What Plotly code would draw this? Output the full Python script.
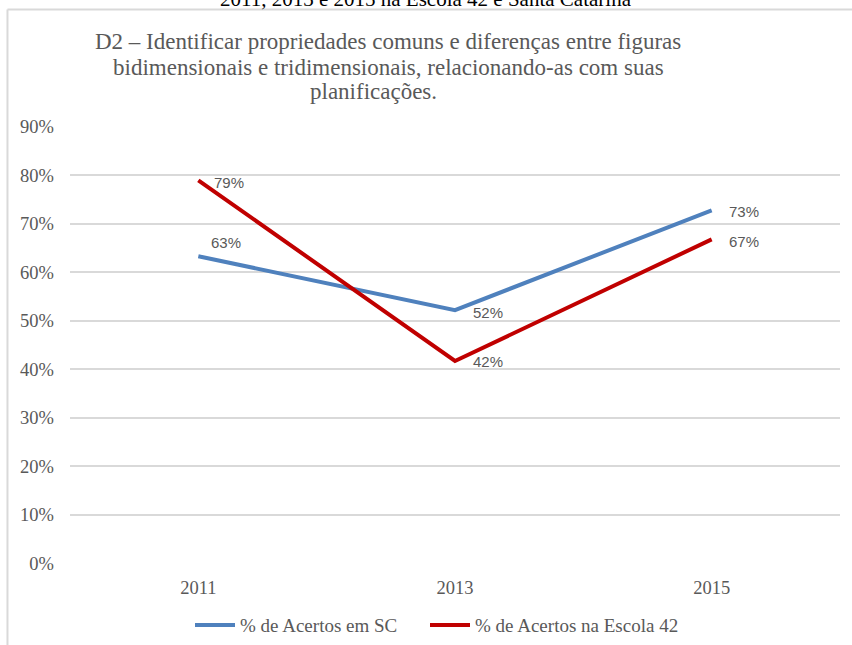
import plotly.graph_objects as go

anos = ["2011", "2013", "2015"]
acertos_sc = [0.633, 0.522, 0.728]
acertos_escola = [0.79, 0.417, 0.668]
rotulos_sc = ["63%", "52%", "73%"]
rotulos_escola = ["79%", "42%", "67%"]
y_ticks = [0, 0.1, 0.2, 0.3, 0.4, 0.5, 0.6, 0.7, 0.8, 0.9]

cinza = "#595959"
serif = "Liberation Serif, Times New Roman, serif"
sans = "Liberation Sans, Arial, sans-serif"

fig = go.Figure()
fig.add_trace(go.Scatter(
    x=anos, y=acertos_sc, mode="lines", name="% de Acertos em SC",
    line=dict(color="#4F81BD", width=4), legend="legend",
))
fig.add_trace(go.Scatter(
    x=anos, y=acertos_escola, mode="lines", name="% de Acertos na Escola 42",
    line=dict(color="#C00000", width=4), legend="legend2",
))

# rótulos de dados, à direita dos pontos (o primeiro azul fica um pouco acima)
desloc_sc = [(11, 14), (16, -2), (15, -1)]
desloc_escola = [(14, -2), (16, -1), (15, -2)]
for valores, rotulos, desloc in [(acertos_sc, rotulos_sc, desloc_sc),
                                 (acertos_escola, rotulos_escola, desloc_escola)]:
    for i, (v, r, (dx, dy)) in enumerate(zip(valores, rotulos, desloc)):
        fig.add_annotation(x=i, y=v, text=r, showarrow=False, xanchor="left",
                           xshift=dx, yshift=dy,
                           font=dict(family=sans, size=15, color=cinza))

# moldura da área do gráfico (só esquerda e topo aparecem no recorte)
fig.add_shape(type="line", xref="paper", yref="paper", x0=-0.0812, x1=1.03, y0=1.266, y1=1.266,
              line=dict(color="#D9D9D9", width=2))
fig.add_shape(type="line", xref="paper", yref="paper", x0=-0.0812, x1=-0.0812, y0=-0.3, y1=1.266,
              line=dict(color="#D9D9D9", width=2))

titulo = ["D2 – Identificar propriedades comuns e diferenças entre figuras",
          "bidimensionais e tridimensionais, relacionando-as com suas",
          "planificações."]
for linha, (cx, cy) in zip(titulo, [(388, 42), (388, 67), (373, 91)]):
    fig.add_annotation(text=linha, xref="paper", yref="paper",
                       x=(cx - 70) / 770, y=(564 - cy) / 438,
                       xanchor="center", yanchor="middle", showarrow=False,
                       font=dict(family=serif, size=23, color=cinza))

fig.add_annotation(
    text="2011, 2013 e 2015 na Escola 42 e Santa Catarina",
    xref="paper", yref="paper", x=(426 - 70) / 770, y=(564 - 13) / 438,
    xanchor="center", yanchor="bottom",
    showarrow=False, font=dict(family=serif, size=21, color="black"),
)

leg = dict(orientation="h", y=-0.096, yanchor="top", xanchor="left", bgcolor="rgba(0,0,0,0)",
           font=dict(family=serif, size=19, color=cinza), itemwidth=40)
fig.update_layout(
    width=852, height=645,
    margin=dict(l=70, r=12, t=126, b=81, autoexpand=False),
    paper_bgcolor="white", plot_bgcolor="white",
    showlegend=True,
    legend=dict(leg, x=(190 - 70) / 770),
    legend2=dict(leg, x=(425 - 70) / 770),
    xaxis=dict(type="category", range=[-0.5, 2.5], showgrid=False, showline=False, zeroline=False,
               tickfont=dict(family=serif, size=18.5, color=cinza), ticklabelstandoff=10),
    yaxis=dict(range=[-0.002, 0.902], tickvals=y_ticks, tickformat=".0%", showgrid=True,
               gridcolor="#D9D9D9", gridwidth=2, zeroline=False, showline=False,
               tickfont=dict(family=serif, size=18.5, color=cinza), ticklabelstandoff=15),
)

fig.write_html("out.html", config={"displayModeBar": False},
               post_script="document.body.style.margin='0px';")
